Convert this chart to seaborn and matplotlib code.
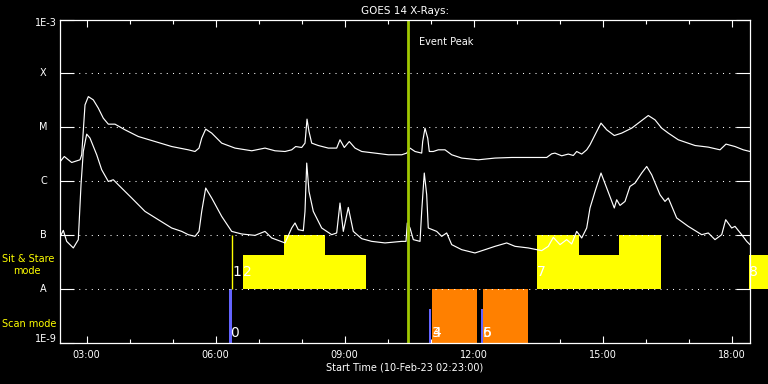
import numpy as np
import pandas as pd
import matplotlib
matplotlib.use("Agg")
import matplotlib.pyplot as plt
import seaborn as sns
from matplotlib.ticker import FixedLocator, NullLocator, FuncFormatter

# ---------------- data ----------------
long_hours = [2.390, 2.483, 2.655, 2.849, 2.888, 2.965, 3.042, 3.158, 3.274, 3.390,
              3.507, 3.662, 3.895, 4.204, 4.593, 4.981, 5.367, 5.523, 5.616, 5.679,
              5.772, 5.911, 6.144, 6.453, 6.842, 7.151, 7.383, 7.616, 7.772, 7.865,
              8.004, 8.081, 8.128, 8.174, 8.237, 8.390, 8.623, 8.818, 8.895, 8.995,
              9.111, 9.244, 9.400, 9.709, 10.018, 10.330, 10.446, 10.523, 10.639, 10.795,
              10.818, 10.872, 10.935, 10.972, 11.065, 11.181, 11.337, 11.493, 11.725, 12.111,
              12.500, 12.888, 13.274, 13.702, 13.818, 13.895, 14.051, 14.204, 14.321, 14.400,
              14.516, 14.632, 14.709, 14.826, 14.965, 15.098, 15.274, 15.446, 15.679, 15.832,
              16.065, 16.221, 16.376, 16.530, 16.762, 17.151, 17.460, 17.733, 17.872, 18.081,
              18.274, 18.430]
long_log10 = [-5.633, -5.541, -5.652, -5.602, -5.509, -4.583, -4.430, -4.491, -4.644, -4.830,
              -4.941, -4.941, -5.046, -5.170, -5.263, -5.356, -5.417, -5.448, -5.385, -5.200,
              -5.033, -5.107, -5.293, -5.385, -5.435, -5.385, -5.435, -5.448, -5.417, -5.356,
              -5.374, -5.293, -4.848, -5.078, -5.293, -5.337, -5.385, -5.385, -5.231, -5.374,
              -5.263, -5.385, -5.448, -5.478, -5.509, -5.509, -5.478, -5.385, -5.448, -5.478,
              -5.263, -5.015, -5.200, -5.448, -5.448, -5.417, -5.417, -5.509, -5.570, -5.602,
              -5.570, -5.559, -5.559, -5.559, -5.491, -5.478, -5.528, -5.496, -5.522, -5.448,
              -5.496, -5.417, -5.324, -5.139, -4.922, -5.046, -5.152, -5.107, -5.015, -4.922,
              -4.781, -4.861, -5.015, -5.107, -5.231, -5.337, -5.367, -5.417, -5.311, -5.356,
              -5.417, -5.448]

short_hours = [2.390, 2.460, 2.539, 2.693, 2.809, 2.872, 2.925, 3.004, 3.081, 3.237,
               3.353, 3.507, 3.623, 3.739, 4.051, 4.360, 4.669, 4.981, 5.214, 5.367,
               5.523, 5.616, 5.679, 5.772, 5.911, 6.144, 6.376, 6.609, 6.918, 7.151,
               7.307, 7.616, 7.772, 7.849, 7.925, 8.042, 8.081, 8.121, 8.174, 8.274,
               8.469, 8.702, 8.818, 8.895, 8.972, 9.088, 9.204, 9.400, 9.632, 9.942,
               10.330, 10.430, 10.460, 10.523, 10.600, 10.756, 10.795, 10.855, 10.911, 10.948,
               11.144, 11.260, 11.376, 11.493, 11.725, 12.034, 12.267, 12.500, 12.772, 12.965,
               13.274, 13.585, 13.739, 13.856, 14.011, 14.167, 14.283, 14.400, 14.516, 14.632,
               14.709, 14.826, 14.965, 15.098, 15.274, 15.330, 15.407, 15.523, 15.639, 15.756,
               15.911, 16.028, 16.144, 16.337, 16.453, 16.530, 16.725, 16.995, 17.307, 17.460,
               17.616, 17.772, 17.865, 18.004, 18.081, 18.237, 18.353, 18.430]
short_log10 = [-7.022, -6.911, -7.115, -7.237, -7.083, -6.065, -5.448, -5.126, -5.200, -5.509,
               -5.787, -6.004, -5.972, -6.065, -6.311, -6.559, -6.713, -6.867, -6.930, -6.991,
               -7.022, -6.930, -6.559, -6.126, -6.311, -6.652, -6.930, -6.978, -7.004, -6.930,
               -7.052, -7.144, -6.867, -6.774, -6.898, -6.917, -6.559, -5.663, -6.189, -6.559,
               -6.867, -6.991, -6.959, -6.404, -6.930, -6.485, -6.930, -7.065, -7.115, -7.144,
               -7.115, -7.115, -6.774, -6.867, -7.083, -7.115, -6.559, -5.848, -6.250, -6.867,
               -6.930, -7.022, -6.959, -7.176, -7.269, -7.330, -7.269, -7.207, -7.144, -7.207,
               -7.237, -7.287, -7.207, -7.041, -7.176, -7.083, -7.163, -6.930, -7.052, -6.867,
               -6.496, -6.189, -5.848, -6.126, -6.496, -6.343, -6.448, -6.374, -6.096, -6.033,
               -5.848, -5.726, -5.880, -6.250, -6.374, -6.311, -6.681, -6.837, -6.991, -6.959,
               -7.083, -6.991, -6.713, -6.867, -6.837, -6.991, -7.115, -7.176]

# Sit & Stare mode blocks (hours, flux top; base at 1E-8)
stare_start = [6.639, 7.593, 8.539, 13.476, 14.453, 15.383, 18.407]
stare_end   = [7.593, 8.539, 9.493, 14.453, 15.383, 16.360, 18.849]
stare_top   = [4.2e-8, 1e-7, 4.2e-8, 1e-7, 4.2e-8, 1e-7, 4.2e-8]

# Scan mode blocks (base at 1E-9)
scan_start = [11.035, 12.221]
scan_end   = [12.081, 13.267]
scan_top   = [1e-8, 1e-8]

# blue scan markers
marker_x     = [6.315, 10.965, 12.170]
marker_width = [0.065, 0.045, 0.045]
marker_top   = [1e-8, 4.2e-9, 4.2e-9]
stare_marker_x = [6.372]

# event numbers
event_labels = ["0", "1", "2", "3", "4", "5", "6", "7", "8"]
event_x      = [6.337, 6.383, 6.639, 11.035, 11.035, 12.221, 12.221, 13.476, 18.407]
event_mode   = ["scan", "stare", "stare", "scan", "scan", "scan", "scan", "stare", "stare"]

event_peak_hour = 10.488
x_start, x_end = 2.3833, 18.43
ytick_vals   = [1e-9, 1e-8, 1e-7, 1e-6, 1e-5, 1e-4, 1e-3]
ytick_labels = ["1E-9", "A", "B", "C", "M", "X", "1E-3"]

# ---------------- style ----------------
sns.set_style("dark", {"axes.facecolor": "black", "figure.facecolor": "black",
                       "axes.edgecolor": "white", "text.color": "white",
                       "xtick.color": "white", "ytick.color": "white"})
plt.rcParams["font.family"] = ["DejaVu Sans"]

W, H = 768, 384
fig = plt.figure(figsize=(7.68, 3.84), dpi=100, facecolor="black")
L, R, T, B = 60, 750, 19.5, 343
ax = fig.add_axes([L / W, 1 - B / H, (R - L) / W, (B - T) / H])
ax.set_facecolor("black")
ax.set_yscale("log")

df = pd.concat([
    pd.DataFrame({"hour": long_hours, "flux": 10.0 ** np.array(long_log10), "channel": "long"}),
    pd.DataFrame({"hour": short_hours, "flux": 10.0 ** np.array(short_log10), "channel": "short"}),
])

# blocks
sb = ax.bar(stare_start, np.array(stare_top) - 1e-8, width=np.array(stare_end) - np.array(stare_start),
            bottom=1e-8, align="edge", color="#ffff00", linewidth=0, zorder=1)
for p in sb.patches:
    p.set_clip_on(False)
ax.bar(scan_start, np.array(scan_top) - 1e-9, width=np.array(scan_end) - np.array(scan_start),
       bottom=1e-9, align="edge", color="#ff8000", linewidth=0, zorder=1)
ax.bar(marker_x, np.array(marker_top) - 1e-9, width=marker_width, bottom=1e-9,
       align="edge", color="#6464ff", linewidth=0, zorder=1.2)
ax.vlines(stare_marker_x, 1e-8, 1e-7, color="#ffff00", lw=1.0, zorder=1.2)

# grid lines (dotted)
for v in ytick_vals[1:-1]:
    ax.axhline(v, color="white", lw=0.75, ls=(0, (1, 5)), zorder=1.5)

sns.lineplot(data=df, x="hour", y="flux", hue="channel",
             palette={"long": "white", "short": "white"}, estimator=None, sort=False,
             legend=False, linewidth=0.85, ax=ax, zorder=2)

ax.axvline(event_peak_hour, color="#a0c800", lw=2.0, zorder=2.5)
ax.text(10.732, 3.75e-4, "Event Peak", color="white", fontsize=7, ha="left", va="center")

for lab, xv, mode in zip(event_labels, event_x, event_mode):
    yv = 1.56e-9 if mode == "scan" else 2.11e-8
    ax.text(xv, yv, lab, color="white", fontsize=10, ha="left", va="center",
            zorder=3, clip_on=False)

ax.set_xlim(x_start, x_end)
ax.set_ylim(1e-9, 1e-3)

# ticks
ax.xaxis.set_major_locator(FixedLocator([3, 6, 9, 12, 15, 18]))
ax.xaxis.set_minor_locator(FixedLocator(list(range(3, 19))))
ax.xaxis.set_major_formatter(FuncFormatter(lambda v, p: f"{int(round(v)):02d}:00"))
ax.yaxis.set_major_locator(FixedLocator(ytick_vals))
ax.yaxis.set_minor_locator(NullLocator())
ax.set_yticklabels([])
ax.tick_params(axis="x", which="major", direction="in", length=5, width=0.8,
               top=True, bottom=True, colors="white", labelsize=7, pad=5)
ax.tick_params(axis="x", which="minor", direction="in", length=2.8, width=0.8,
               top=True, bottom=True, colors="white")
ax.tick_params(axis="y", which="major", direction="in", length=10, width=0.8,
               left=True, right=True, colors="white")
for s in ax.spines.values():
    s.set_color("white")
    s.set_linewidth(0.9)
    s.set_zorder(3)

ytr = ax.get_yaxis_transform()
for v, lab in zip(ytick_vals, ytick_labels):
    if lab.startswith("1E"):
        yy = 1.19e-9 if v == 1e-9 else 8.6e-4
        ax.text(-0.0043, yy, lab, transform=ytr, ha="right", va="center",
                fontsize=7, color="white", clip_on=False)
    else:
        ax.text(-0.0239, v, lab, transform=ytr, ha="center", va="center",
                fontsize=7, color="white", clip_on=False)

ax.set_title("GOES 14 X-Rays:", color="white", fontsize=7.5, pad=4.3)
ax.set_xlabel("Start Time (10-Feb-23 02:23:00)", color="white", fontsize=7, va="center")
ax.xaxis.set_label_coords(0.5, -(368 - B) / (B - T))
ax.set_ylabel("")

fig.text(2 / W, 1 - 259 / H, "Sit & Stare", color="#ffff00", fontsize=7, ha="left", va="center")
fig.text(12.7 / W, 1 - 271 / H, "mode", color="#ffff00", fontsize=7, ha="left", va="center")
fig.text(2 / W, 1 - 324 / H, "Scan mode", color="#ffff00", fontsize=7, ha="left", va="center")

fig.savefig("out.png", dpi=100, facecolor="black")
